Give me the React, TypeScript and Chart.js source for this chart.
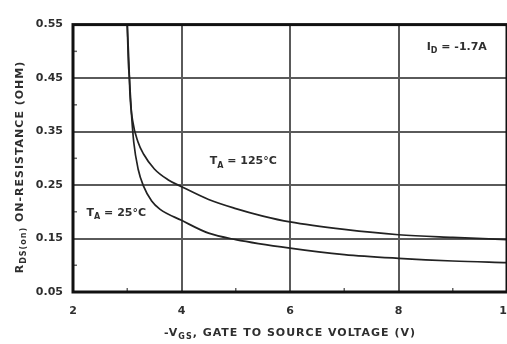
import React, { useEffect, useRef } from "react";
import { Chart, registerables } from "chart.js";

Chart.register(...registerables);

const vgs25 = [3.0, 3.02, 3.04, 3.08, 3.12, 3.2, 3.3, 3.45, 3.6, 4.0, 4.5, 5.0, 6.0, 7.0, 8.0, 9.0, 10.0];
const r25 = [0.55, 0.48, 0.45, 0.38, 0.33, 0.28, 0.248, 0.22, 0.205, 0.184, 0.16, 0.148, 0.132, 0.12, 0.113, 0.108, 0.105];
const vgs125 = [3.0, 3.03, 3.05, 3.1, 3.2, 3.3, 3.5, 3.75, 4.0, 4.5, 5.0, 5.5, 6.0, 7.0, 8.0, 9.0, 10.0];
const r125 = [0.55, 0.48, 0.42, 0.37, 0.33, 0.308, 0.28, 0.26, 0.247, 0.223, 0.206, 0.192, 0.181, 0.167, 0.157, 0.152, 0.148];

const xTicks = [2, 4, 6, 8, 10];
const yTicks = [0.05, 0.15, 0.25, 0.35, 0.45, 0.55];
const xMinor = [3, 5, 7, 9];
const yMinor = [0.1, 0.2, 0.3, 0.4, 0.5];

type Seg = { t: string; sub?: boolean };
const xTitle: Seg[] = [{ t: "-V" }, { t: "GS", sub: true }, { t: ", GATE TO SOURCE VOLTAGE (V)" }];
const yTitle: Seg[] = [{ t: "R" }, { t: "DS(on)", sub: true }, { t: " ON-RESISTANCE (OHM)" }];
const notes: { segs: Seg[]; x: number; y: number }[] = [
  { segs: [{ t: "T" }, { t: "A", sub: true }, { t: " = 125°C" }], x: 4.52, y: 0.294 },
  { segs: [{ t: "T" }, { t: "A", sub: true }, { t: " = 25°C" }], x: 2.25, y: 0.197 },
  { segs: [{ t: "I" }, { t: "D", sub: true }, { t: " = -1.7A" }], x: 8.52, y: 0.508 },
];

const FONT = "bold 11px 'DejaVu Sans'";
const SUB = "bold 8px 'DejaVu Sans'";
const TXT = "#2e2e2e";

function segWidth(ctx: CanvasRenderingContext2D, segs: Seg[]) {
  let w = 0;
  for (const s of segs) {
    ctx.font = s.sub ? SUB : FONT;
    w += ctx.measureText(s.t).width;
  }
  return w;
}
function drawSegs(ctx: CanvasRenderingContext2D, segs: Seg[], x: number, y: number) {
  ctx.textBaseline = "middle";
  ctx.textAlign = "left";
  let cx = x;
  for (const s of segs) {
    ctx.font = s.sub ? SUB : FONT;
    ctx.fillText(s.t, cx, s.sub ? y + 4 : y);
    cx += ctx.measureText(s.t).width;
  }
}

const decor = {
  id: "decor",
  afterDraw(chart: any) {
    const ctx: any = chart.ctx;
    const a = chart.chartArea;
    const xs = chart.scales.x;
    const ys = chart.scales.y;
    ctx.save();
    ctx.strokeStyle = "#666";
    ctx.lineWidth = 1.5;
    for (const v of xMinor) {
      const px = xs.getPixelForValue(v);
      ctx.beginPath();
      ctx.moveTo(px, a.bottom);
      ctx.lineTo(px, a.bottom - 4);
      ctx.stroke();
    }
    for (const v of yMinor) {
      const py = ys.getPixelForValue(v);
      ctx.beginPath();
      ctx.moveTo(a.left, py);
      ctx.lineTo(a.left + 4, py);
      ctx.stroke();
    }
    ctx.strokeStyle = "#111";
    ctx.lineWidth = 3;
    ctx.strokeRect(a.left, a.top, a.right - a.left, a.bottom - a.top);
    ctx.fillStyle = TXT;
    ctx.letterSpacing = "1px";
    const wx = segWidth(ctx, xTitle);
    drawSegs(ctx, xTitle, (a.left + a.right) / 2 - wx / 2, 325);
    const wy = segWidth(ctx, yTitle);
    ctx.translate(12, 159);
    ctx.rotate(-Math.PI / 2);
    drawSegs(ctx, yTitle, -wy / 2, 0);
    ctx.restore();
    ctx.save();
    ctx.fillStyle = TXT;
    for (const n of notes) {
      drawSegs(ctx, n.segs, xs.getPixelForValue(n.x), ys.getPixelForValue(n.y));
    }
    ctx.restore();
  },
};

export default function App() {
  const ref = useRef<HTMLCanvasElement>(null);
  useEffect(() => {
    if (!ref.current) return;
    const chart = new Chart(ref.current, {
      type: "line",
      data: {
        datasets: [
          {
            label: "TA = 25°C",
            data: vgs25.map((v, i) => ({ x: v, y: r25[i] })),
            borderColor: "#222",
            borderWidth: 1.7,
            pointRadius: 0,
            cubicInterpolationMode: "monotone",
          },
          {
            label: "TA = 125°C",
            data: vgs125.map((v, i) => ({ x: v, y: r125[i] })),
            borderColor: "#222",
            borderWidth: 1.7,
            pointRadius: 0,
            cubicInterpolationMode: "monotone",
          },
        ],
      },
      options: {
        responsive: false,
        animation: false,
        layout: { padding: { left: 0, top: 9, right: 21, bottom: 0 } },
        plugins: { legend: { display: false }, tooltip: { enabled: false } },
        scales: {
          x: {
            type: "linear",
            min: 2,
            max: 10,
            afterBuildTicks: (s: any) => {
              s.ticks = xTicks.map((v) => ({ value: v }));
            },
            afterFit: (s: any) => {
              s.height = 52;
            },
            grid: { color: "#5a5a5a", lineWidth: 2, drawTicks: false },
            border: { display: false },
            ticks: { padding: 13, color: TXT, font: { family: "DejaVu Sans", size: 11, weight: "bold" }, maxRotation: 0 },
          },
          y: {
            type: "linear",
            min: 0.05,
            max: 0.55,
            afterBuildTicks: (s: any) => {
              s.ticks = yTicks.map((v) => ({ value: v }));
            },
            afterFit: (s: any) => {
              s.width = 65;
            },
            grid: { color: "#5a5a5a", lineWidth: 2, drawTicks: false },
            border: { display: false },
            ticks: {
              padding: 10,
              color: TXT,
              font: { family: "DejaVu Sans", size: 11, weight: "bold" },
              callback: (v: any) => Number(v).toFixed(2),
            },
          },
        },
      },
      plugins: [decor],
    } as any);
    return () => chart.destroy();
  }, []);
  return (
    <div style={{ position: "absolute", left: 8, top: 8, width: 499, height: 336, overflow: "hidden", background: "#fff" }}>
      <canvas ref={ref} width={520} height={336} style={{ width: 520, height: 336, display: "block" }} />
    </div>
  );
}
